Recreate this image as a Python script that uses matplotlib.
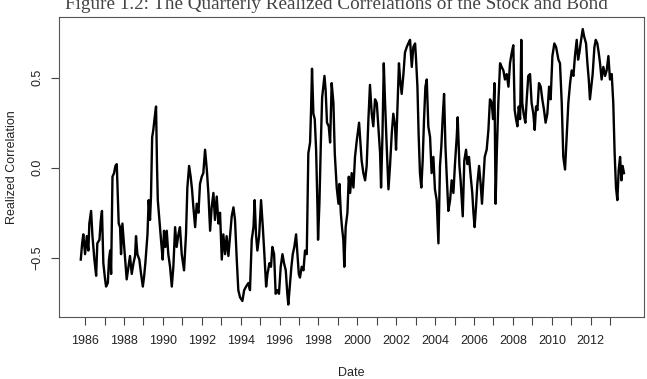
import matplotlib
matplotlib.use("Agg")
import matplotlib.pyplot as plt

# quarterly realized correlation
years = [
    1985.78, 1985.85, 1985.91, 1986.00, 1986.09, 1986.17, 1986.22, 1986.31, 1986.38, 1986.48,
    1986.57, 1986.63, 1986.74, 1986.81, 1986.87, 1986.94, 1987.03, 1987.08, 1987.17, 1987.23,
    1987.29, 1987.34, 1987.41, 1987.49, 1987.56, 1987.63, 1987.68, 1987.73, 1987.80, 1987.85,
    1987.92, 1988.01, 1988.06, 1988.14, 1988.23, 1988.31, 1988.40, 1988.49, 1988.57, 1988.62,
    1988.69, 1988.79, 1988.88, 1988.97, 1989.03, 1989.10, 1989.21, 1989.27, 1989.34, 1989.39,
    1989.45, 1989.51, 1989.57, 1989.65, 1989.70, 1989.74, 1989.82, 1989.92, 1989.99, 1990.06,
    1990.13, 1990.20, 1990.28, 1990.37, 1990.46, 1990.54, 1990.63, 1990.71, 1990.80, 1990.88,
    1990.97, 1991.09, 1991.19, 1991.26, 1991.35, 1991.43, 1991.50, 1991.57, 1991.66, 1991.74,
    1991.83, 1991.91, 1992.00, 1992.08, 1992.17, 1992.26, 1992.34, 1992.43, 1992.51, 1992.60,
    1992.68, 1992.77, 1992.86, 1992.94, 1993.03, 1993.11, 1993.20, 1993.28, 1993.37, 1993.46,
    1993.54, 1993.63, 1993.71, 1993.80, 1993.88, 1993.97, 1994.09, 1994.18, 1994.28, 1994.40,
    1994.48, 1994.57, 1994.66, 1994.72, 1994.79, 1994.86, 1994.95, 1995.05, 1995.14, 1995.22,
    1995.31, 1995.38, 1995.48, 1995.56, 1995.63, 1995.72, 1995.80, 1995.89, 1995.97, 1996.06,
    1996.15, 1996.23, 1996.32, 1996.40, 1996.45, 1996.54, 1996.61, 1996.68, 1996.76, 1996.85,
    1996.92, 1996.99, 1997.05, 1997.14, 1997.23, 1997.31, 1997.40, 1997.48, 1997.57, 1997.62,
    1997.67, 1997.74, 1997.81, 1997.88, 1997.95, 1997.98, 1998.05, 1998.12, 1998.19, 1998.25,
    1998.31, 1998.37, 1998.44, 1998.53, 1998.60, 1998.68, 1998.77, 1998.84, 1998.94, 1999.03,
    1999.08, 1999.15, 1999.21, 1999.28, 1999.33, 1999.40, 1999.49, 1999.56, 1999.63, 1999.71,
    1999.80, 1999.88, 1999.97, 2000.09, 2000.14, 2000.22, 2000.31, 2000.40, 2000.48, 2000.57,
    2000.65, 2000.74, 2000.82, 2000.91, 2001.00, 2001.08, 2001.17, 2001.22, 2001.29, 2001.36,
    2001.42, 2001.51, 2001.60, 2001.68, 2001.77, 2001.85, 2001.94, 2001.99, 2002.06, 2002.14,
    2002.20, 2002.28, 2002.37, 2002.45, 2002.54, 2002.62, 2002.71, 2002.80, 2002.88, 2002.97,
    2003.02, 2003.09, 2003.15, 2003.22, 2003.29, 2003.36, 2003.43, 2003.50, 2003.57, 2003.65,
    2003.74, 2003.82, 2003.91, 2003.99, 2004.08, 2004.17, 2004.25, 2004.32, 2004.39, 2004.46,
    2004.53, 2004.59, 2004.68, 2004.77, 2004.85, 2004.94, 2005.02, 2005.11, 2005.16, 2005.25,
    2005.31, 2005.42, 2005.50, 2005.59, 2005.66, 2005.74, 2005.83, 2005.91, 2005.97, 2006.03,
    2006.10, 2006.17, 2006.26, 2006.34, 2006.41, 2006.48, 2006.55, 2006.65, 2006.74, 2006.82,
    2006.91, 2006.98, 2007.05, 2007.11, 2007.17, 2007.25, 2007.34, 2007.42, 2007.51, 2007.59,
    2007.68, 2007.77, 2007.85, 2007.94, 2008.02, 2008.09, 2008.16, 2008.23, 2008.30, 2008.37,
    2008.43, 2008.48, 2008.55, 2008.64, 2008.71, 2008.79, 2008.88, 2008.96, 2009.05, 2009.12,
    2009.19, 2009.26, 2009.34, 2009.43, 2009.51, 2009.60, 2009.68, 2009.77, 2009.86, 2009.94,
    2010.03, 2010.13, 2010.22, 2010.34, 2010.42, 2010.51, 2010.59, 2010.68, 2010.76, 2010.85,
    2010.94, 2011.02, 2011.11, 2011.19, 2011.28, 2011.35, 2011.42, 2011.48, 2011.59, 2011.66,
    2011.76, 2011.83, 2011.90, 2011.96, 2012.03, 2012.10, 2012.19, 2012.26, 2012.34, 2012.41,
    2012.48, 2012.56, 2012.65, 2012.74, 2012.82, 2012.91, 2012.99, 2013.08, 2013.16, 2013.23,
    2013.30, 2013.37, 2013.44, 2013.51, 2013.58, 2013.64, 2013.71,
]
corr = [
    -0.51, -0.42, -0.37, -0.48, -0.38, -0.46, -0.31, -0.24, -0.38, -0.51,
    -0.60, -0.42, -0.40, -0.29, -0.24, -0.53, -0.62, -0.66, -0.64, -0.51,
    -0.46, -0.59, -0.05, -0.03, 0.01, 0.02, -0.14, -0.31, -0.33, -0.48,
    -0.31, -0.44, -0.51, -0.62, -0.55, -0.49, -0.59, -0.53, -0.49, -0.38,
    -0.48, -0.51, -0.59, -0.66, -0.61, -0.53, -0.37, -0.18, -0.29, -0.16,
    0.17, 0.21, 0.27, 0.34, 0.01, -0.18, -0.29, -0.42, -0.51, -0.35,
    -0.44, -0.35, -0.48, -0.55, -0.66, -0.55, -0.33, -0.44, -0.37, -0.33,
    -0.48, -0.57, -0.37, -0.11, 0.01, -0.05, -0.12, -0.22, -0.33, -0.20,
    -0.25, -0.09, -0.05, -0.03, 0.10, -0.01, -0.14, -0.35, -0.22, -0.14,
    -0.29, -0.16, -0.31, -0.25, -0.51, -0.37, -0.48, -0.38, -0.49, -0.37,
    -0.27, -0.22, -0.29, -0.51, -0.68, -0.72, -0.74, -0.68, -0.66, -0.64,
    -0.68, -0.40, -0.33, -0.18, -0.37, -0.46, -0.38, -0.18, -0.33, -0.48,
    -0.66, -0.59, -0.53, -0.55, -0.44, -0.48, -0.70, -0.68, -0.70, -0.55,
    -0.48, -0.53, -0.57, -0.70, -0.76, -0.64, -0.55, -0.48, -0.44, -0.37,
    -0.48, -0.59, -0.61, -0.55, -0.57, -0.46, -0.48, 0.08, 0.14, 0.32,
    0.55, 0.30, 0.27, 0.10, -0.22, -0.40, -0.20, 0.12, 0.39, 0.45,
    0.51, 0.43, 0.25, 0.23, 0.14, 0.47, 0.36, 0.08, -0.11, -0.20,
    -0.09, -0.25, -0.33, -0.40, -0.55, -0.33, -0.25, -0.05, -0.14, -0.03,
    -0.11, 0.06, 0.15, 0.25, 0.17, 0.04, -0.03, -0.07, 0.01, 0.27,
    0.46, 0.30, 0.23, 0.38, 0.36, 0.23, 0.08, -0.11, 0.17, 0.58,
    0.38, 0.12, -0.12, 0.01, 0.19, 0.30, 0.23, 0.10, 0.32, 0.58,
    0.49, 0.41, 0.52, 0.64, 0.67, 0.69, 0.71, 0.56, 0.67, 0.69,
    0.60, 0.45, 0.19, -0.03, -0.11, 0.04, 0.27, 0.45, 0.49, 0.23,
    0.17, -0.03, 0.06, -0.12, -0.18, -0.42, 0.01, 0.12, 0.28, 0.41,
    0.12, -0.03, -0.24, -0.18, -0.07, -0.14, 0.02, 0.17, 0.28, 0.01,
    -0.07, -0.27, 0.04, 0.10, 0.02, 0.06, -0.05, -0.14, -0.25, -0.33,
    -0.22, -0.09, 0.01, -0.09, -0.20, -0.07, 0.06, 0.10, 0.21, 0.38,
    0.36, 0.27, 0.47, -0.20, 0.08, 0.36, 0.58, 0.56, 0.54, 0.49,
    0.52, 0.45, 0.58, 0.64, 0.68, 0.32, 0.27, 0.23, 0.34, 0.27,
    0.71, 0.36, 0.30, 0.25, 0.38, 0.51, 0.52, 0.36, 0.30, 0.21,
    0.34, 0.32, 0.47, 0.45, 0.38, 0.32, 0.25, 0.30, 0.45, 0.38,
    0.62, 0.69, 0.67, 0.60, 0.58, 0.36, 0.06, -0.01, 0.17, 0.36,
    0.47, 0.54, 0.51, 0.62, 0.71, 0.60, 0.64, 0.69, 0.77, 0.73,
    0.69, 0.58, 0.49, 0.38, 0.45, 0.52, 0.67, 0.71, 0.69, 0.64,
    0.58, 0.49, 0.56, 0.51, 0.54, 0.62, 0.49, 0.52, 0.36, 0.08,
    -0.11, -0.18, -0.01, 0.06, -0.07, 0.01, -0.03,
]

year_ticks = list(range(1986, 2014))
year_labels = [str(y) if y % 2 == 0 else "" for y in year_ticks]
corr_ticks = [-0.5, 0.0, 0.5]
corr_labels = ["\u22120.5", "0.0", "0.5"]

fig = plt.figure(figsize=(6.47, 3.79), dpi=100)
ax = fig.add_axes([59 / 647, 1 - 317 / 379, 585 / 647, 300 / 379])

ax.plot(years, corr, color="black", lw=1.7)

ax.set_xlim(1984.66, 2014.74)
ax.set_ylim(-0.829, 0.837)

ax.set_xticks(year_ticks)
ax.set_xticklabels(year_labels, fontsize=9, family="Liberation Sans", color="#222222")
ax.set_yticks(corr_ticks)
ax.set_yticklabels(corr_labels, fontsize=9, family="Liberation Sans", color="#222222",
                   rotation=90, va="center")
ax.tick_params(axis="both", length=5.5, width=0.8, color="#444444", pad=5.5)
ax.tick_params(axis="x", pad=7.5)

for s in ax.spines.values():
    s.set_color("#555555")
    s.set_linewidth(0.8)

ax.set_xlabel("Date", fontsize=9, family="Liberation Sans", labelpad=14, color="#222222")
ax.set_ylabel("Realized Correlation", fontsize=9, family="Liberation Sans",
              labelpad=10, color="#222222")

fig.text(0.52, 1 - 9 / 379, "Figure 1.2: The Quarterly Realized Correlations of the Stock and Bond",
         ha="center", va="baseline", fontsize=13.8, family="Liberation Serif", color="#444444")

fig.savefig("out.png", dpi=100)
